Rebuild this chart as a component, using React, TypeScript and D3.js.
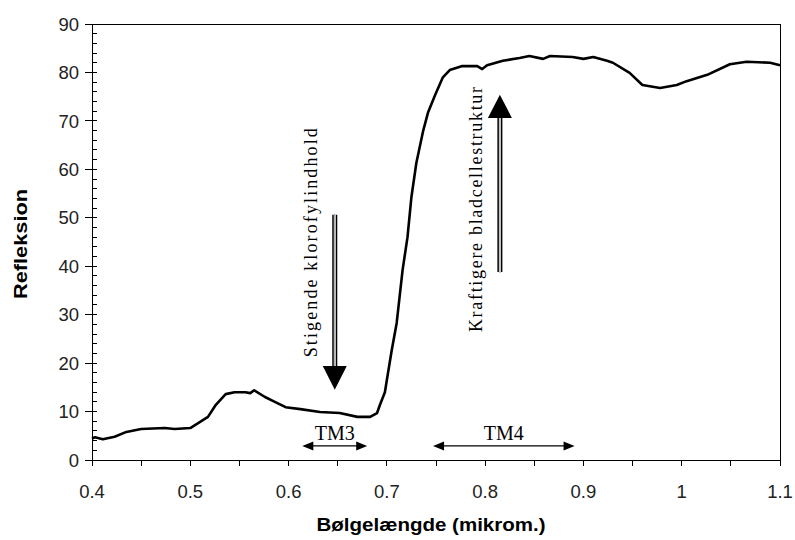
import React from "react";
import * as d3 from "d3";

// wavelength (micrometre) and reflectance (%)
const wavelengths = [
  0.4, 0.403, 0.411, 0.423, 0.435, 0.45, 0.474, 0.484, 0.5, 0.508, 0.518, 0.526,
  0.536, 0.545, 0.556, 0.561, 0.565, 0.576, 0.586, 0.597, 0.612, 0.632, 0.652,
  0.67, 0.683, 0.69, 0.693, 0.698, 0.7, 0.705, 0.71, 0.716, 0.721, 0.725, 0.73,
  0.737, 0.742, 0.749, 0.757, 0.764, 0.776, 0.792, 0.797, 0.802, 0.818, 0.835,
  0.845, 0.859, 0.866, 0.889, 0.9, 0.91, 0.924, 0.93, 0.947, 0.96, 0.978, 0.995,
  1.005, 1.026, 1.049, 1.066, 1.09, 1.1,
];
const reflectance = [
  4.4, 4.7, 4.3, 4.8, 5.8, 6.4, 6.6, 6.4, 6.6, 7.6, 8.9, 11.4, 13.6, 14.0, 14.0,
  13.8, 14.4, 13.0, 12.0, 10.9, 10.5, 9.9, 9.7, 8.9, 8.9, 9.7, 11.4, 14.0, 16.5,
  22.7, 28.3, 39.2, 46.0, 54.3, 61.3, 68.0, 71.8, 75.3, 79.0, 80.5, 81.3, 81.3,
  80.7, 81.5, 82.4, 83.0, 83.4, 82.8, 83.4, 83.2, 82.8, 83.2, 82.4, 82.0, 79.9,
  77.4, 76.8, 77.4, 78.2, 79.5, 81.7, 82.2, 82.0, 81.5,
];

const xTicks = [0.4, 0.5, 0.6, 0.7, 0.8, 0.9, 1, 1.1];
const xMinorTicks = d3.range(0, 15).map((i) => 0.4 + i * 0.05);
const yTicks = [0, 10, 20, 30, 40, 50, 60, 70, 80, 90];
const yMinorTicks = d3.range(0, 46).map((i) => i * 2);

// annotations in data units
const bands = [
  { label: "TM3", from: 0.614, to: 0.68 },
  { label: "TM4", from: 0.747, to: 0.891 },
];
const arrows = [
  { text: "Stigende klorofylindhold", x: 0.647, tail: 50.6, base: 19.4, tip: 14.5, textTop: 68.5, textBottom: 21.2 },
  { text: "Kraftigere bladcellestruktur", x: 0.815, tail: 38.8, base: 70.6, tip: 75.4, textTop: 77.0, textBottom: 26.4 },
];

const width = 795;
const height = 540;
const left = 92;
const right = 780;
const top = 24;
const bottom = 460;

export default function App() {
  const x = d3.scaleLinear().domain([0.4, 1.1]).range([left, right]);
  const y = d3.scaleLinear().domain([0, 90]).range([bottom, top]);

  const pts = wavelengths.map((w, i) => [w, reflectance[i]] as [number, number]);
  const line = d3
    .line<[number, number]>()
    .x((d) => x(d[0]))
    .y((d) => y(d[1]));

  const sans = "Arial, 'Liberation Sans', sans-serif";
  const serif = "'Times New Roman', 'Liberation Serif', serif";

  return (
    <svg
      width={width}
      height={height}
      style={{ position: "absolute", left: 0, top: 0, background: "#fff" }}
    >
      {/* frame */}
      <rect x={left} y={top} width={right - left} height={bottom - top} fill="none" stroke="#000" strokeWidth={1} shapeRendering="crispEdges" />

      {/* y ticks */}
      {yMinorTicks.map((t) => (
        <line key={"ym" + t} x1={left} x2={left + 5} y1={y(t)} y2={y(t)} stroke="#000" shapeRendering="crispEdges" />
      ))}
      {yTicks.map((t) => (
        <g key={"y" + t}>
          <line x1={left - 7} x2={left + 5} y1={y(t)} y2={y(t)} stroke="#000" shapeRendering="crispEdges" />
          <text x={left - 13} y={y(t)} dy="0.36em" textAnchor="end" fontFamily={sans} fontSize={18.5} fill="#222">
            {t}
          </text>
        </g>
      ))}

      {/* x ticks */}
      {xMinorTicks.map((t) => (
        <line key={"xm" + t} x1={x(t)} x2={x(t)} y1={bottom} y2={bottom + 6} stroke="#000" shapeRendering="crispEdges" />
      ))}
      {xTicks.map((t) => (
        <text key={"x" + t} x={x(t)} y={bottom + 38} textAnchor="middle" fontFamily={sans} fontSize={18.5} fill="#222">
          {t}
        </text>
      ))}

      {/* axis titles */}
      <text x={431} y={531} textAnchor="middle" fontFamily={sans} fontSize={19} fontWeight="bold" textLength={229} lengthAdjust="spacingAndGlyphs">
        Bølgelængde (mikrom.)
      </text>
      <text transform={`translate(27,${(top + bottom) / 2 + 2}) rotate(-90)`} textAnchor="middle" fontFamily={sans} fontSize={19} fontWeight="bold" textLength={110} lengthAdjust="spacingAndGlyphs">
        Refleksion
      </text>

      {/* curve */}
      <path d={line(pts) ?? ""} fill="none" stroke="#000" strokeWidth={2.6} strokeLinejoin="round" />

      {/* vertical arrows with rotated labels */}
      {arrows.map((a) => {
        const ax = x(a.x);
        const dir = a.tip > a.base ? -1 : 1;
        const tb = y(a.textBottom);
        const tt = y(a.textTop);
        return (
          <g key={a.text}>
            <line x1={ax} x2={ax} y1={y(a.tail)} y2={y(a.base)} stroke="#000" strokeWidth={5} />
            <line x1={ax} x2={ax} y1={y(a.tail) - dir} y2={y(a.base) + dir} stroke="#fff" strokeWidth={2} />
            <line x1={ax} x2={ax} y1={y(a.tail) - dir} y2={y(a.base) + dir} stroke="#999" strokeWidth={1} />
            <path d={`M${ax - 12},${y(a.base)} L${ax + 12},${y(a.base)} L${ax},${y(a.tip)} Z`} fill="#000" />
            <text
              transform={`translate(${ax - 18},${tb}) rotate(-90)`}
              fontFamily={serif}
              fontSize={18}
              textLength={tb - tt}
              lengthAdjust="spacing"
            >
              {a.text}
            </text>
          </g>
        );
      })}

      {/* band arrows */}
      {bands.map((b) => {
        const x0 = x(b.from);
        const x1 = x(b.to);
        const by = y(2.9);
        return (
          <g key={b.label}>
            <line x1={x0 + 4} x2={x1 - 4} y1={by} y2={by} stroke="#000" strokeWidth={1.3} />
            <path d={`M${x0},${by} L${x0 + 11},${by - 4.5} L${x0 + 11},${by + 4.5} Z`} fill="#000" />
            <path d={`M${x1},${by} L${x1 - 11},${by - 4.5} L${x1 - 11},${by + 4.5} Z`} fill="#000" />
            <text x={(x0 + x1) / 2} y={by - 6} textAnchor="middle" fontFamily={serif} fontSize={20}>
              {b.label}
            </text>
          </g>
        );
      })}
    </svg>
  );
}
